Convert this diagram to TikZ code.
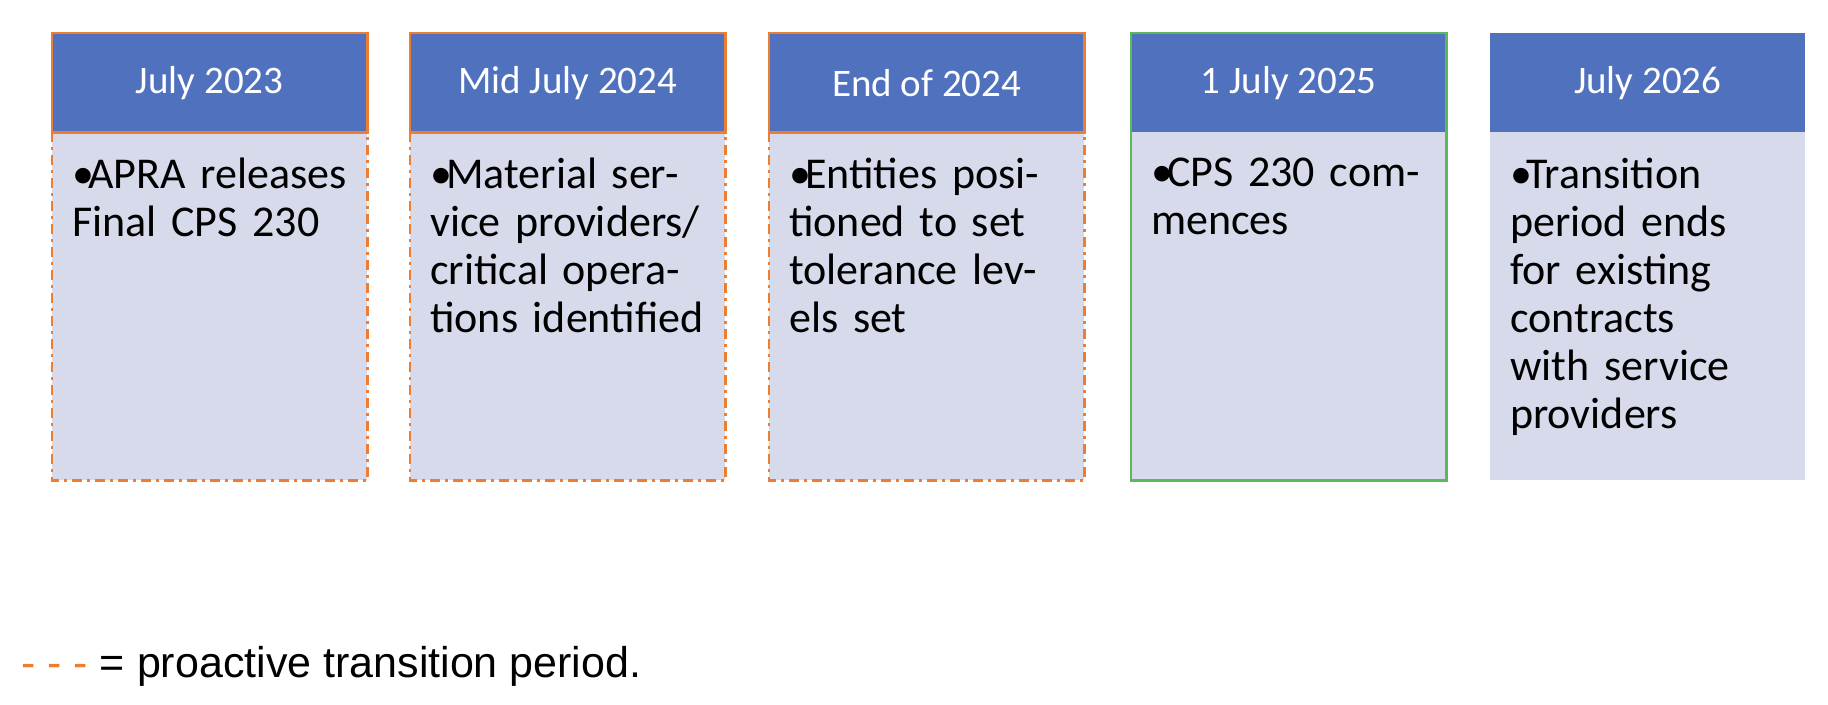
\documentclass[tikz,border=0pt]{standalone}
\usepackage{fontspec}
\setmainfont{Carlito}
\newfontfamily\legendfont{Liberation Sans}
\definecolor{hdr}{HTML}{4F71BE}
\definecolor{bod}{HTML}{D6DAEA}
\definecolor{org}{HTML}{ED7D31}
\definecolor{grn}{HTML}{5BB85B}
\begin{document}
\begin{tikzpicture}[x=1pt,y=-1pt,
  hdrbox/.style={fill=hdr,minimum width=315pt,minimum height=99pt,anchor=north west,inner sep=0pt,text=white,font=\fontsize{39}{44}\selectfont},
  bodbox/.style={fill=bod,minimum width=315pt,minimum height=348pt,anchor=north west,inner sep=0pt},
  txt/.style={anchor=north west,text width=275pt,inner sep=0pt,align=left,font=\fontsize{44}{48}\selectfont},
  orgline/.style={draw=org,line width=2.5pt,dash pattern=on 10pt off 5pt on 3pt off 5pt},
  grnline/.style={draw=grn,line width=2.5pt}]
\useasboundingbox (0,0) rectangle (1828,704);
\newcommand{\bl}[1]{\hyphenpenalty=10000\hangindent=16pt\hangafter=1\noindent\makebox[16pt][l]{\textbullet}#1}
\foreach \i/\x/\h/\t in {1/52/{July 2023}/{APRA releases Final CPS 230},
  2/410/{Mid July 2024}/{Material service providers/ critical operations identified},
  3/769/{End of 2024}/{Entities positioned to set tolerance levels set},
  4/1131/{1 July 2025}/{CPS 230 commences},
  5/1490/{July 2026}/{Transition period ends for existing contracts with service providers}}{
  \node[bodbox] (b\i) at (\x,132) {};
  \node[hdrbox] (h\i) at (\x,33) {\h};
  \node[txt] (t\i) at (\x+20,158) {\bl{\t}};
}
\foreach \i in {1,2,3}{
  \draw[orgline] (h\i.south west) -- (b\i.south west) -- (b\i.south east) -- (h\i.south east);
  \draw[org,line width=2.5pt] (h\i.south west) rectangle (h\i.north east);
}
\draw[grnline] (h4.north west) rectangle (b4.south east);
\node[anchor=west,inner sep=0pt,font=\legendfont\fontsize{43}{48}\selectfont] (leg) at (21,666)
  {\textcolor{org}{- - -} = proactive transition period.};
\end{tikzpicture}
\end{document}
